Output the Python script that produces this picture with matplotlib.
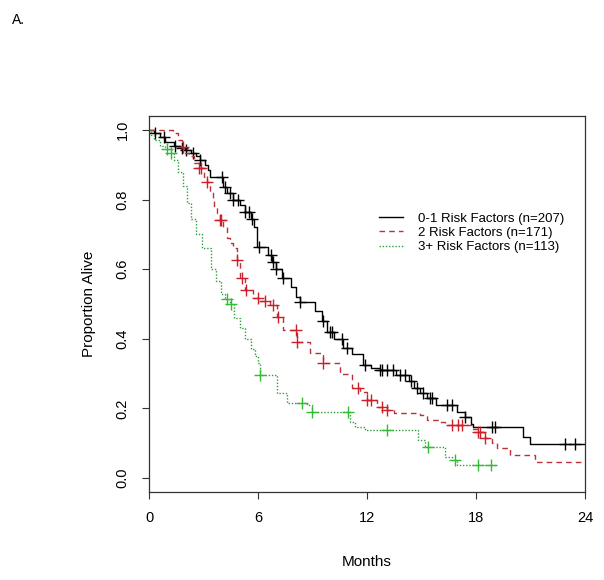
import numpy as np
import matplotlib
matplotlib.use('Agg')
import matplotlib.pyplot as plt

plt.rcParams['font.family'] = ['Liberation Sans', 'DejaVu Sans']

# Kaplan-Meier step curves (months, proportion alive)
t_low = [0, 0.3, 0.6, 0.9, 1.4, 1.7, 2.0, 2.3, 2.6, 2.8, 3.1, 3.25, 3.35, 4.05, 4.3, 4.6,
         5.0, 5.3, 5.6, 5.8, 5.95, 6.55, 6.75, 7.0, 7.3, 7.8, 8.1, 8.3, 9.15, 9.55, 9.8,
         10.2, 10.7, 11.2, 11.8, 12.2, 12.7, 13.6, 14.3, 14.6, 14.9, 15.3, 15.8, 16.95,
         17.4, 17.7, 17.85, 20.6, 20.95, 24.0]
s_low = [1.0, 0.99, 0.98, 0.965, 0.955, 0.948, 0.943, 0.935, 0.925, 0.915, 0.90, 0.885,
         0.865, 0.835, 0.82, 0.80, 0.785, 0.765, 0.745, 0.72, 0.665, 0.64, 0.62, 0.60,
         0.575, 0.55, 0.52, 0.505, 0.48, 0.45, 0.42, 0.40, 0.375, 0.355, 0.325, 0.317,
         0.31, 0.297, 0.28, 0.26, 0.245, 0.23, 0.21, 0.19, 0.175, 0.155, 0.147, 0.118,
         0.098, 0.098]

t_mid = [0, 1.3, 1.6, 1.8, 1.9, 2.2, 2.5, 2.75, 3.0, 3.2, 3.35, 3.5, 3.6, 3.75, 3.9, 4.1,
         4.3, 4.45, 4.6, 4.84, 5.0, 5.28, 5.72, 6.1, 6.66, 7.05, 7.37, 8.15, 8.86, 9.58,
         10.5, 11.2, 11.6, 12.0, 12.55, 13.1, 13.5, 14.9, 15.3, 16.0, 16.3, 17.85, 18.1,
         18.5, 18.9, 19.15, 19.87, 21.24, 24.0]
s_mid = [1.0, 0.99, 0.97, 0.95, 0.935, 0.925, 0.905, 0.89, 0.865, 0.85, 0.82, 0.80, 0.78,
         0.76, 0.74, 0.72, 0.69, 0.675, 0.66, 0.626, 0.575, 0.54, 0.517, 0.51, 0.497,
         0.463, 0.425, 0.39, 0.36, 0.33, 0.30, 0.26, 0.247, 0.224, 0.204, 0.195, 0.187,
         0.18, 0.167, 0.16, 0.152, 0.14, 0.132, 0.115, 0.10, 0.086, 0.066, 0.046, 0.046]

t_high = [0, 0.1, 0.3, 0.6, 0.9, 1.2, 1.4, 1.6, 1.85, 2.1, 2.3, 2.6, 2.9, 3.4, 3.7, 3.95,
          4.2, 4.45, 4.7, 5.0, 5.3, 5.6, 5.85, 6.0, 6.1, 7.05, 7.6, 8.7, 8.97, 11.06, 11.34,
          11.9, 14.8, 15.2, 16.3, 16.7, 16.95, 19.15]
s_high = [1.0, 0.985, 0.97, 0.955, 0.945, 0.935, 0.915, 0.88, 0.84, 0.79, 0.745, 0.70,
          0.66, 0.60, 0.565, 0.53, 0.515, 0.50, 0.46, 0.43, 0.40, 0.37, 0.35, 0.33, 0.296,
          0.245, 0.215, 0.21, 0.19, 0.161, 0.147, 0.138, 0.109, 0.089, 0.06, 0.052, 0.037,
          0.037]

# censoring times
c_low = [0.35, 0.8, 1.45, 1.8, 2.05, 2.4, 2.8, 4.0, 4.2, 4.45, 4.6, 4.9, 5.3, 5.5, 5.65,
         6.05, 6.7, 6.85, 7.0, 7.4, 8.3, 9.6, 9.95, 10.1, 10.6, 10.9, 11.9, 12.7, 12.85,
         13.1, 13.45, 13.8, 14.1, 14.45, 14.75, 15.1, 15.45, 15.6, 16.4, 16.7, 17.4, 18.9,
         19.05, 22.9, 23.45]
c_mid = [1.85, 2.75, 2.85, 3.2, 3.9, 3.95, 4.85, 5.1, 5.35, 6.0, 6.4, 6.85, 7.1, 8.1,
         8.15, 9.6, 11.5, 12.0, 12.2, 12.8, 13.1, 16.7, 17.0, 17.25, 18.1, 18.2, 18.5]
c_high = [1.0, 1.2, 4.3, 4.5, 6.1, 8.4, 9.0, 10.95, 13.1, 15.35, 16.85, 18.1, 18.85]

labels = ['0-1 Risk Factors (n=207)', '2 Risk Factors (n=171)', '3+ Risk Factors (n=113)']


def surv_at(t, s, times):
    t = np.asarray(t)
    s = np.asarray(s)
    idx = np.searchsorted(t, times, side='right') - 1
    return s[np.clip(idx, 0, len(s) - 1)]


fig = plt.figure(figsize=(6.04, 5.80), dpi=100)
ax = fig.add_axes([0.2467, 0.1517, 0.7218, 0.6483])

groups = [
    (t_low, s_low, c_low, 'black', 'black', '-'),
    (t_mid, s_mid, c_mid, '#b8323a', '#cc1f2a', (0, (4, 3))),
    (t_high, s_high, c_high, '#2e9e3a', '#33bb33', (0, (1, 1.3))),
]
handles = []
for (t, s, c, col, mcol, ls), lab in zip(groups, labels):
    h, = ax.plot(t, s, drawstyle='steps-post', color=col, lw=1.0, linestyle=ls, label=lab)
    ax.plot(c, surv_at(t, s, c), linestyle='none', marker='+', color=mcol,
            markersize=9, markeredgewidth=1.0)
    handles.append(h)

ax.set_xlim(0, 24)
ax.set_ylim(-0.04, 1.04)
ax.set_xticks([0, 6, 12, 18, 24])
ax.set_yticks([0.0, 0.2, 0.4, 0.6, 0.8, 1.0])
ax.set_yticklabels(['0.0', '0.2', '0.4', '0.6', '0.8', '1.0'], rotation=90, va='center')
ax.tick_params(length=5, width=0.8, pad=9, labelsize=10.5, color='#333333')
for sp in ax.spines.values():
    sp.set_linewidth(0.9)
    sp.set_color('#333333')

ax.set_xlabel('Months', fontsize=11, labelpad=21)
ax.set_ylabel('Proportion Alive', fontsize=11, labelpad=14)

ax.legend(handles=handles, loc='upper left', bbox_to_anchor=(0.5, 0.775), frameon=False,
          fontsize=9.5, handlelength=1.8, handletextpad=1.2, labelspacing=0.15)

fig.text(0.02, 0.978, 'A.', fontsize=10, va='top', ha='left')

fig.savefig('out.png', dpi=100)
